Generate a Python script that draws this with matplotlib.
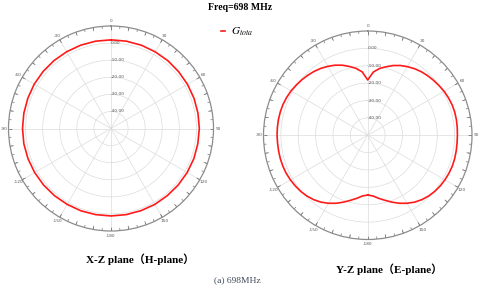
import numpy as np
import matplotlib
matplotlib.use('Agg')
import matplotlib.pyplot as plt

plt.rcParams['mathtext.fontset'] = 'stix'

# patrones de ganancia (dB)
h_theta = [0, 10, 20, 30, 40, 50, 60, 70, 80, 90, 100, 110, 120, 130, 140, 150, 160, 170,
           180, 190, 200, 210, 220, 230, 240, 250, 260, 270, 280, 290, 300, 310, 320, 330, 340, 350, 360]
h_gain = [1.9, 1.9, 1.9, 1.8, 1.8, 1.7, 1.7, 1.7, 1.7, 1.7, 1.6, 1.6, 1.5, 1.4, 1.3, 1.3, 1.2, 1.2,
          1.2, 1.2, 1.3, 1.3, 1.4, 1.5, 1.6, 1.7, 1.8, 1.8, 1.8, 1.8, 1.9, 1.9, 1.9, 1.9, 1.9, 1.9, 1.9]

e_theta_dir = [0, 5, 10, 15, 20, 25, 30, 35, 40, 45, 50, 55, 60, 65, 70, 75, 80, 85, 90,
               95, 100, 105, 110, 115, 120, 125, 130, 135, 140, 145, 150, 155, 160, 165, 170, 175, 180]
e_gain_dir = [-18.2, -13.5, -11.0, -9.2, -7.3, -5.7, -4.4, -3.2, -2.2, -1.4, -0.7, 0.0, 0.7, 1.2, 1.6, 1.8, 1.8, 1.7, 1.6,
              1.6, 1.7, 1.8, 1.8, 1.6, 1.3, 0.9, 0.3, -0.5, -1.6, -3.0, -4.8, -6.8, -9.0, -11.2, -13.1, -14.9, -15.6]
e_theta_izq = [0, -5, -10, -15, -20, -25, -30, -35, -40, -45, -50, -55, -60, -65, -70, -75, -80, -85, -90,
               -95, -100, -105, -110, -115, -120, -125, -130, -135, -140, -145, -150, -155, -160, -165, -170, -175, -180]
e_gain_izq = [-18.2, -13.4, -10.9, -9.0, -7.1, -5.5, -4.2, -3.0, -2.0, -1.2, -0.4, 0.3, 1.0, 1.5, 1.9, 2.1, 2.2, 2.2, 2.2,
              2.1, 2.1, 2.1, 2.0, 1.8, 1.4, 0.9, 0.3, -0.5, -1.6, -3.0, -4.8, -6.8, -9.0, -11.2, -13.1, -14.9, -15.6]

r_ticks = [-40, -30, -20, -10, 0]
ang_ticks = [0, 30, 60, 90, 120, 150, 180, 210, 240, 270, 300, 330]
ang_labels = ['0', '30', '60', '90', '120', '150', '-180', '-150', '-120', '-90', '-60', '-30']
marcas_menores = np.arange(0, 360, 5)
marcas_mayores = np.arange(0, 360, 10)

serif = ['Liberation Serif', 'Noto Sans CJK SC']
gris = '#8c8c8c'


def preparar_polar(ax):
    ax.set_theta_zero_location('N')
    ax.set_theta_direction(-1)
    ax.set_rlim(-50, 10)
    ax.set_rticks(r_ticks)
    ax.set_yticklabels([])
    ax.set_thetagrids(ang_ticks, [])
    ax.tick_params(axis='both', length=0)
    ax.grid(True, color='#dcdcdc', lw=0.5)
    ax.spines['polar'].set_color(gris)
    ax.spines['polar'].set_linewidth(0.9)
    # marcas del anillo exterior
    ax.vlines(np.deg2rad(marcas_menores), 8.5, 10, color='#777777', lw=0.5)
    ax.vlines(np.deg2rad(marcas_mayores), 7.8, 10, color='#777777', lw=0.5)
    ax.set_rlim(-50, 10)
    for ang, lab in zip(ang_ticks, ang_labels):
        t = np.deg2rad(ang)
        ax.annotate(lab, (t, 10), xytext=(3.3 * np.sin(t), 3.3 * np.cos(t)), textcoords='offset points',
                    ha='center', va='center', fontsize=3.1, color='#555555', annotation_clip=False)
    for r in r_ticks:
        ax.text(0, r, f'{r:.2f}', ha='left', va='center', fontsize=3.2, color='#555555')


fig = plt.figure(figsize=(4.8, 2.9), dpi=100)

# Plano H
ax1 = fig.add_axes([8.5 / 480, 1 - 231 / 290, 205 / 480, 205 / 290], projection='polar')
preparar_polar(ax1)
linea, = ax1.plot(np.deg2rad(h_theta), h_gain, color='#ff1a1a', lw=1.2)

# Plano E
ax2 = fig.add_axes([263.5 / 480, 1 - 239.5 / 290, 208.5 / 480, 208.5 / 290], projection='polar')
preparar_polar(ax2)
e_theta = e_theta_izq[::-1] + e_theta_dir[1:]
e_gain = e_gain_izq[::-1] + e_gain_dir[1:]
ax2.plot(np.deg2rad(e_theta), e_gain, color='#ff1a1a', lw=1.2)

fig.text(240 / 480, 1 - 7 / 290, 'Freq=698 MHz', ha='center', va='center',
         fontsize=7, fontweight='bold', family=serif)
fig.legend([linea], ['$G_{tota}$'], loc='center left', bbox_to_anchor=(221 / 480, 1 - 32 / 290),
           frameon=False, fontsize=8, handlelength=0.4, handletextpad=0.5, borderpad=0, borderaxespad=0)

fig.text(139.7 / 480, 1 - 259 / 290, 'X-Z plane（H-plane）', ha='center', va='center',
         fontsize=8, fontweight='bold', family=serif)
fig.text(389 / 480, 1 - 269 / 290, 'Y-Z plane（E-plane）', ha='center', va='center',
         fontsize=8, fontweight='bold', family=serif)
fig.text(237.5 / 480, 1 - 280 / 290, '(a) 698MHz', ha='center', va='center',
         fontsize=6.8, color='#404a5a', family=serif)

fig.savefig('out.png', dpi=100)
